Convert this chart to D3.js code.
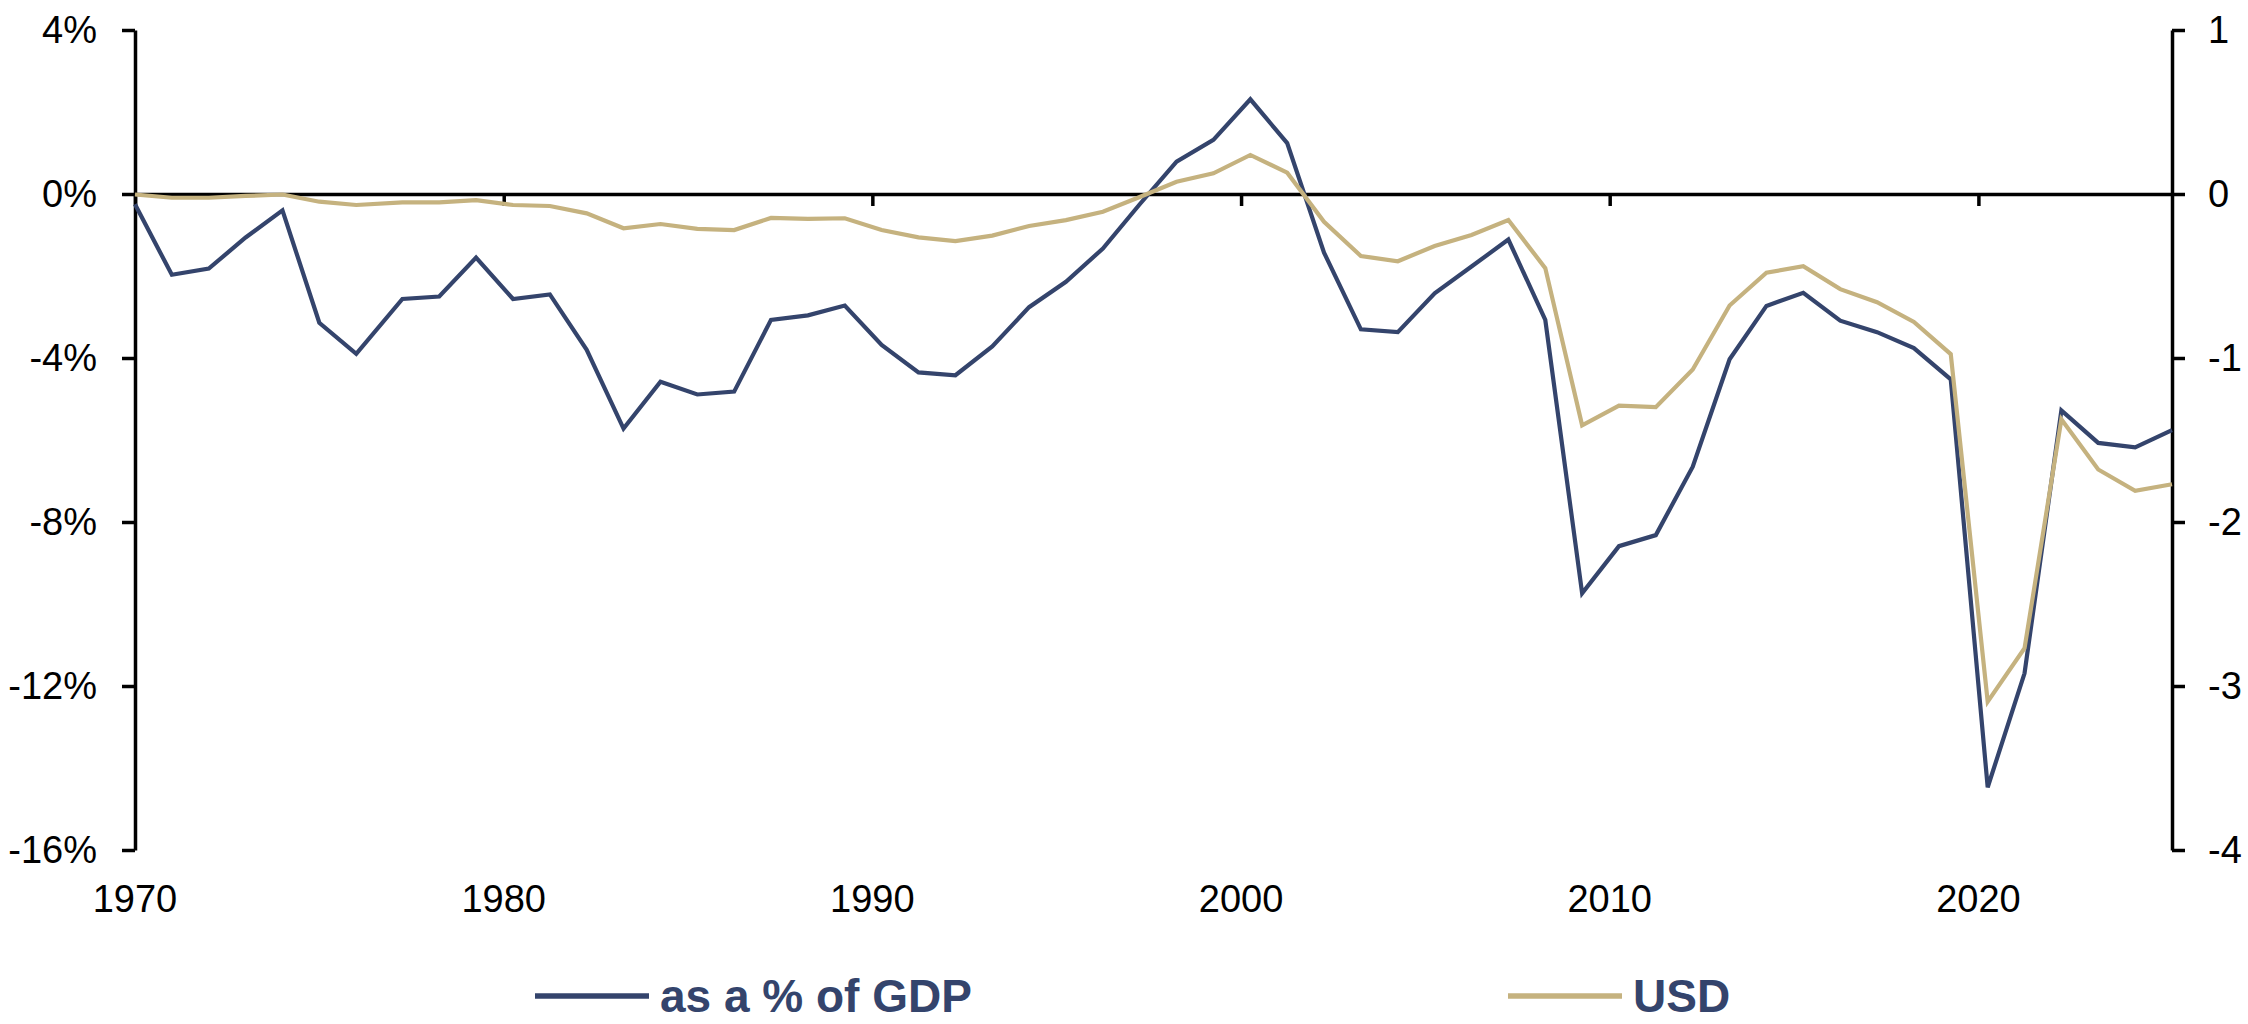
<!DOCTYPE html>
<html>
<head>
<meta charset="utf-8">
<script src="https://cdn.jsdelivr.net/npm/d3@7"></script>
<style>
  html, body { margin: 0; padding: 0; background: #fff; }
  svg { display: block; }
  text { font-family: "Liberation Sans", Arial, sans-serif; }
</style>
</head>
<body>
<svg id="chart" width="2248" height="1024"></svg>
<script>
// ---- Data ----
const fiscalYears = [1970,1971,1972,1973,1974,1975,1976,1977,1978,1979,
  1980,1981,1982,1983,1984,1985,1986,1987,1988,1989,
  1990,1991,1992,1993,1994,1995,1996,1997,1998,1999,
  2000,2001,2002,2003,2004,2005,2006,2007,2008,2009,
  2010,2011,2012,2013,2014,2015,2016,2017,2018,2019,
  2020,2021,2022,2023,2024,2025];

// Budget balance as a % of GDP (left axis)
const pctGDP = [-0.25,-1.97,-1.82,-1.06,-0.40,-3.14,-3.90,-2.56,-2.50,-1.55,
  -2.56,-2.45,-3.80,-5.72,-4.58,-4.89,-4.82,-3.07,-2.96,-2.72,
  -3.68,-4.35,-4.42,-3.72,-2.76,-2.14,-1.33,-0.25,0.79,1.32,
  2.31,1.24,-1.43,-3.30,-3.37,-2.42,-1.77,-1.11,-3.07,-9.74,
  -8.59,-8.32,-6.65,-4.03,-2.73,-2.41,-3.09,-3.37,-3.76,-4.52,
  -14.47,-11.69,-5.28,-6.07,-6.18,-5.76];

// Budget balance in USD trillions (right axis)
const usd = [-0.003,-0.023,-0.023,-0.012,-0.003,-0.047,-0.067,-0.051,-0.051,-0.037,
  -0.067,-0.073,-0.118,-0.209,-0.183,-0.213,-0.220,-0.146,-0.152,-0.148,
  -0.220,-0.264,-0.287,-0.254,-0.195,-0.159,-0.108,-0.018,0.075,0.126,
  0.238,0.130,-0.169,-0.378,-0.410,-0.317,-0.250,-0.159,-0.452,-1.41,
  -1.29,-1.30,-1.07,-0.68,-0.48,-0.44,-0.58,-0.66,-0.78,-0.976,
  -3.096,-2.77,-1.374,-1.68,-1.81,-1.77];

const leftTicks = [4, 0, -4, -8, -12, -16];
const rightTicks = [1, 0, -1, -2, -3, -4];
const xTickYears = [1970, 1980, 1990, 2000, 2010, 2020];
const seriesNames = ["as a % of GDP", "USD"];
const seriesColors = ["#34446c", "#c5b27f"];

// Fiscal year end date (FY ended June 30 up to 1976, September 30 afterwards)
const fyEnd = y => y <= 1976 ? new Date(Date.UTC(y, 5, 30)) : new Date(Date.UTC(y, 8, 30));
const tickDate = y => new Date(Date.UTC(y, 5, 30));

const rows = fiscalYears.map((y, i) => ({ date: fyEnd(y), pct: pctGDP[i], usd: usd[i] }));

// ---- Layout ----
const plotLeft = 135, plotRight = 2172, plotTop = 30, plotBottom = 850;
const svg = d3.select("#chart");

const x = d3.scaleUtc()
  .domain([fyEnd(fiscalYears[0]), fyEnd(fiscalYears[fiscalYears.length - 1])])
  .range([plotLeft, plotRight]);
const yL = d3.scaleLinear().domain([-16, 4]).range([plotBottom, plotTop]);
const yR = d3.scaleLinear().domain([-4, 1]).range([plotBottom, plotTop]);

// Left axis
const gL = svg.append("g").attr("transform", `translate(${plotLeft},0)`)
  .call(d3.axisLeft(yL).tickValues(leftTicks).tickSize(13).tickPadding(25)
    .tickFormat(d => d + "%").tickSizeOuter(0));
// Right axis
const gR = svg.append("g").attr("transform", `translate(${plotRight},0)`)
  .call(d3.axisRight(yR).tickValues(rightTicks).tickSize(13).tickPadding(23)
    .tickFormat(d => d).tickSizeOuter(0));

[gL, gR].forEach(g => {
  g.select(".domain").attr("stroke", "#000").attr("stroke-width", 3.5);
  g.selectAll(".tick line").attr("stroke", "#000").attr("stroke-width", 3.5);
  g.selectAll(".tick text").attr("fill", "#000").style("font-size", "38px")
    .style("font-family", '"Liberation Sans", Arial, sans-serif');
});

// Zero line with downward tick marks
const gX = svg.append("g").attr("transform", `translate(0,${yL(0)})`)
  .call(d3.axisBottom(x).tickValues(xTickYears.map(tickDate)).tickSize(12)
    .tickFormat("").tickSizeOuter(0));
gX.select(".domain").attr("stroke", "#000").attr("stroke-width", 3.5);
gX.selectAll(".tick line").attr("stroke", "#000").attr("stroke-width", 3.5);

// X labels at the bottom
svg.append("g").selectAll("text").data(xTickYears).join("text")
  .attr("x", d => x(tickDate(d)))
  .attr("y", 912)
  .attr("text-anchor", "middle")
  .attr("fill", "#000")
  .style("font-size", "38px")
  .text(d => d);

// Series lines
const linePct = d3.line().x(d => x(d.date)).y(d => yL(d.pct));
const lineUsd = d3.line().x(d => x(d.date)).y(d => yR(d.usd));

svg.append("path").datum(rows)
  .attr("fill", "none").attr("stroke", seriesColors[0]).attr("stroke-width", 4.2)
  .attr("stroke-linejoin", "miter").attr("d", linePct);
svg.append("path").datum(rows)
  .attr("fill", "none").attr("stroke", seriesColors[1]).attr("stroke-width", 4.2)
  .attr("stroke-linejoin", "miter").attr("d", lineUsd);

// Legend
const legendItems = [
  { name: seriesNames[0], color: seriesColors[0], x0: 535 },
  { name: seriesNames[1], color: seriesColors[1], x0: 1508 }
];
const lg = svg.append("g").selectAll("g").data(legendItems).join("g")
  .attr("transform", d => `translate(${d.x0},996)`);
lg.append("line").attr("x1", 0).attr("x2", 114).attr("y1", 0).attr("y2", 0)
  .attr("stroke", d => d.color).attr("stroke-width", 5.5);
lg.append("text").attr("x", 125).attr("y", 16)
  .attr("fill", seriesColors[0])
  .style("font-size", "46px").style("font-weight", "bold")
  .text(d => d.name);
</script>
</body>
</html>
